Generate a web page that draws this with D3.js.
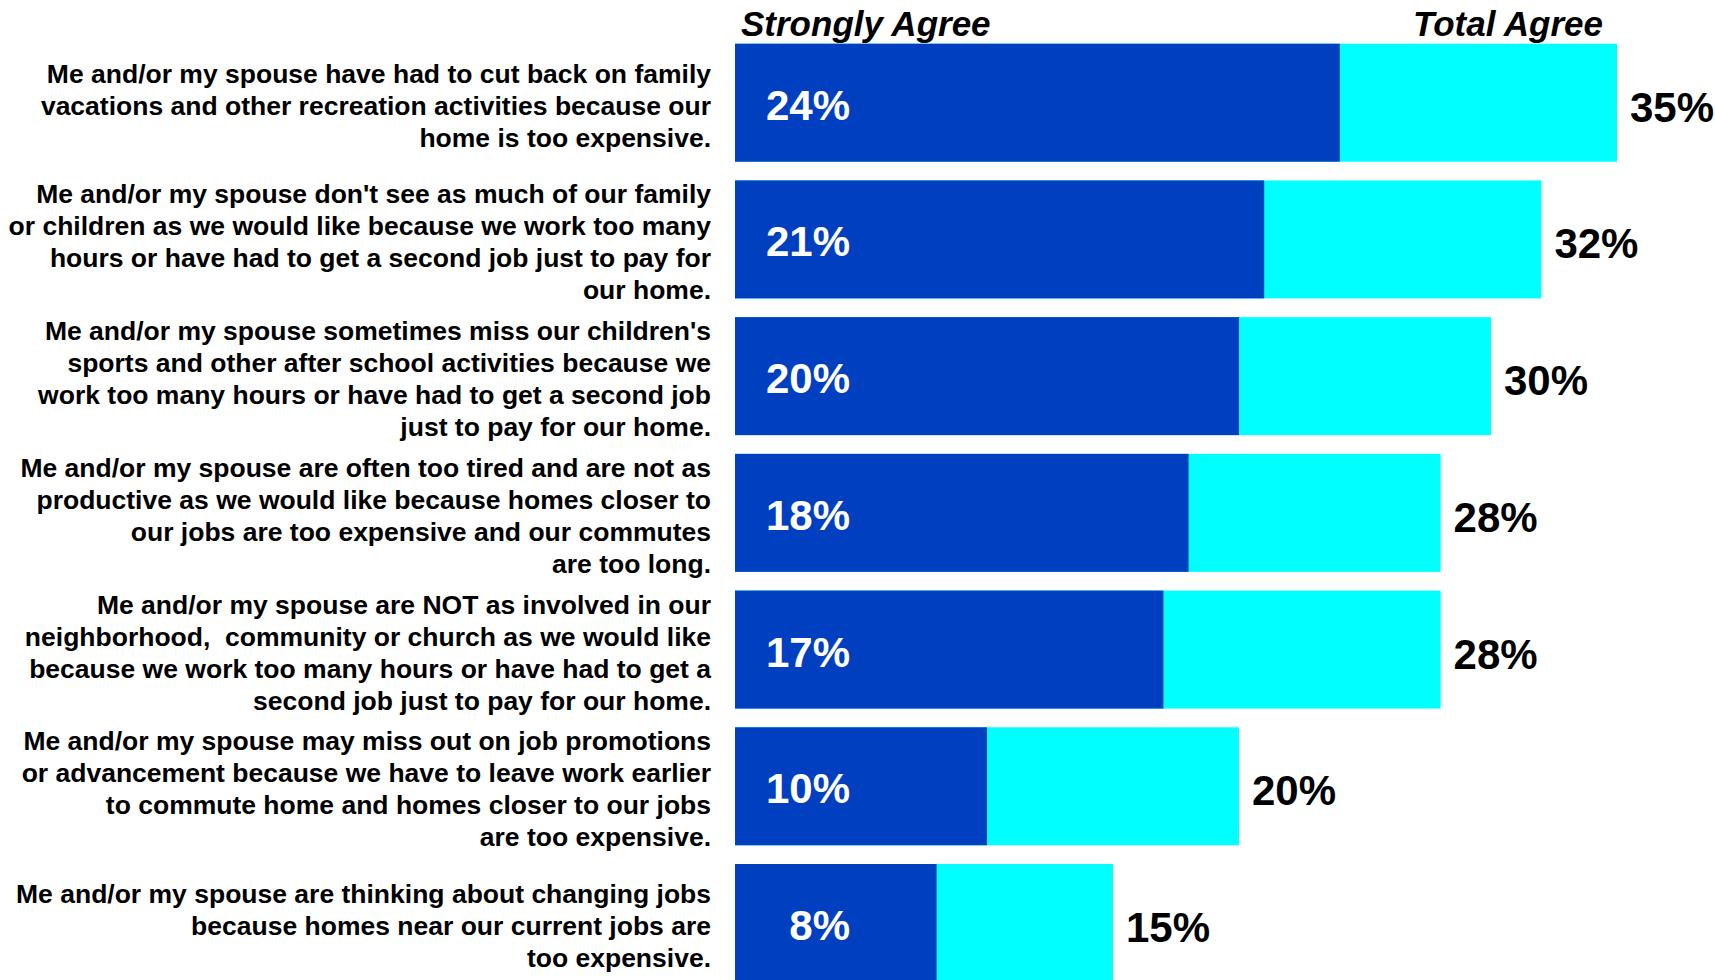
<!DOCTYPE html>
<html>
<head>
<meta charset="utf-8">
<script src="https://cdn.jsdelivr.net/npm/d3@7"></script>
<style>
  body { margin: 0; background: #fff; }
  svg text { font-family: "Liberation Sans", Arial, sans-serif; font-weight: bold; white-space: pre; }
</style>
</head>
<body>
<div id="container"></div>
<script>
/* CONSTANTS AND GLOBALS */
const width = 1715,
  height = 980;

/* DATA */
const statements = [
  ["Me and/or my spouse have had to cut back on family",
   "vacations and other recreation activities because our",
   "home is too expensive."],
  ["Me and/or my spouse don't see as much of our family",
   "or children as we would like because we work too many",
   "hours or have had to get a second job just to pay for",
   "our home."],
  ["Me and/or my spouse sometimes miss our children's",
   "sports and other after school activities because we",
   "work too many hours or have had to get a second job",
   "just to pay for our home."],
  ["Me and/or my spouse are often too tired and are not as",
   "productive as we would like because homes closer to",
   "our jobs are too expensive and our commutes",
   "are too long."],
  ["Me and/or my spouse are NOT as involved in our",
   "neighborhood,  community or church as we would like",
   "because we work too many hours or have had to get a",
   "second job just to pay for our home."],
  ["Me and/or my spouse may miss out on job promotions",
   "or advancement because we have to leave work earlier",
   "to commute home and homes closer to our jobs",
   "are too expensive."],
  ["Me and/or my spouse are thinking about changing jobs",
   "because homes near our current jobs are",
   "too expensive."]
];
const stronglyAgree = [24, 21, 20, 18, 17, 10, 8];
const totalAgree = [35, 32, 30, 28, 28, 20, 15];
const seriesNames = ["Strongly Agree", "Total Agree"];

const colors = { strong: "#0040C0", total: "#00FFFF" };

/* SCALES */
const xScale = d3.scaleLinear()
  .domain([0, 35])
  .range([735, 1617]);

const yScale = d3.scaleBand()
  .domain(d3.range(statements.length))
  .range([43.7, 982])
  .paddingInner(0.137)
  .paddingOuter(0);

const svg = d3.select("#container")
  .append("svg")
  .attr("width", width)
  .attr("height", height);

// total agree bars (behind)
svg.selectAll("rect.total")
  .data(totalAgree)
  .join("rect")
  .attr("class", "total")
  .attr("x", xScale(0))
  .attr("y", (d, i) => yScale(i))
  .attr("width", d => xScale(d) - xScale(0))
  .attr("height", yScale.bandwidth())
  .attr("fill", colors.total);

// strongly agree bars
svg.selectAll("rect.strong")
  .data(stronglyAgree)
  .join("rect")
  .attr("class", "strong")
  .attr("x", xScale(0))
  .attr("y", (d, i) => yScale(i))
  .attr("width", d => xScale(d) - xScale(0))
  .attr("height", yScale.bandwidth())
  .attr("fill", colors.strong);

// values inside the dark bars
svg.selectAll("text.strongVal")
  .data(stronglyAgree)
  .join("text")
  .attr("class", "strongVal")
  .attr("x", 850)
  .attr("y", (d, i) => yScale(i) + yScale.bandwidth() / 2 + 17)
  .attr("text-anchor", "end")
  .attr("fill", "#fff")
  .style("font-size", "42px")
  .text(d => d + "%");

// total values to the right
svg.selectAll("text.totalVal")
  .data(totalAgree)
  .join("text")
  .attr("class", "totalVal")
  .attr("x", d => xScale(d) + 13)
  .attr("y", (d, i) => yScale(i) + yScale.bandwidth() / 2 + 19)
  .attr("fill", "#000")
  .style("font-size", "42px")
  .text(d => d + "%");

// statement labels
const lineH = 32;
svg.selectAll("text.label")
  .data(statements)
  .join("text")
  .attr("class", "label")
  .attr("text-anchor", "end")
  .style("font-size", "26.5px")
  .attr("fill", "#000")
  .each(function (lines, i) {
    const cy = yScale(i) + yScale.bandwidth() / 2 + 3;
    const top = cy - (lines.length - 1) * lineH / 2 + 9;
    d3.select(this).selectAll("tspan")
      .data(lines)
      .join("tspan")
      .attr("x", 711)
      .attr("y", (l, j) => top + j * lineH)
      .text(l => l);
  });

// series headers
svg.append("text")
  .attr("x", 741)
  .attr("y", 36)
  .style("font-size", "35px")
  .style("font-style", "italic")
  .text(seriesNames[0]);

svg.append("text")
  .attr("x", 1603)
  .attr("y", 36)
  .attr("text-anchor", "end")
  .style("font-size", "35px")
  .style("font-style", "italic")
  .text(seriesNames[1]);
</script>
</body>
</html>
